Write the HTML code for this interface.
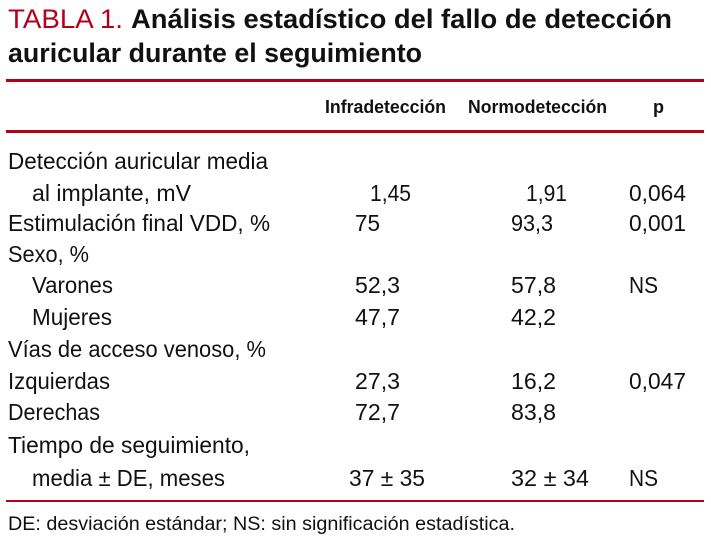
<!DOCTYPE html>
<html><head><meta charset="utf-8"><style>
html,body{margin:0;padding:0;background:#fff;width:711px;height:542px;overflow:hidden}
svg{display:block}
text{font-family:"Liberation Sans",sans-serif;fill:#111}
.b{font-size:23px}
.h{font-size:18px;font-weight:bold}
</style></head><body>
<svg width="711" height="542">
<text x="8" y="28" font-size="27" textLength="115" lengthAdjust="spacingAndGlyphs" style="fill:#b3001b">TABLA 1.</text>
<text x="131" y="28" font-size="27" font-weight="bold" textLength="541" lengthAdjust="spacingAndGlyphs">Análisis estadístico del fallo de detección</text>
<text x="8" y="62" font-size="27" font-weight="bold" textLength="414" lengthAdjust="spacingAndGlyphs">auricular durante el seguimiento</text>
<rect x="6" y="79" width="698" height="3" fill="#b3001b"/>
<text class="h" x="325" y="113" textLength="121" lengthAdjust="spacingAndGlyphs">Infradetección</text>
<text class="h" x="468" y="113" textLength="139" lengthAdjust="spacingAndGlyphs">Normodetección</text>
<text class="h" x="653" y="113">p</text>
<rect x="6" y="130" width="698" height="3" fill="#b3001b"/>
<g>
<text class="b" x="8" y="169" textLength="260" lengthAdjust="spacingAndGlyphs">Detección auricular media</text>
<text class="b" x="32" y="201" textLength="159" lengthAdjust="spacingAndGlyphs">al implante, mV</text>
<text class="b" x="370" y="201" textLength="41" lengthAdjust="spacingAndGlyphs">1,45</text>
<text class="b" x="526" y="201" textLength="41" lengthAdjust="spacingAndGlyphs">1,91</text>
<text class="b" x="629" y="201" textLength="57" lengthAdjust="spacingAndGlyphs">0,064</text>
<text class="b" x="8" y="231" textLength="262" lengthAdjust="spacingAndGlyphs">Estimulación final VDD, %</text>
<text class="b" x="355" y="231" textLength="25" lengthAdjust="spacingAndGlyphs">75</text>
<text class="b" x="511" y="231" textLength="42" lengthAdjust="spacingAndGlyphs">93,3</text>
<text class="b" x="629" y="231" textLength="57" lengthAdjust="spacingAndGlyphs">0,001</text>
<text class="b" x="8" y="262" textLength="81" lengthAdjust="spacingAndGlyphs">Sexo, %</text>
<text class="b" x="32" y="293" textLength="81" lengthAdjust="spacingAndGlyphs">Varones</text>
<text class="b" x="355" y="293" textLength="45" lengthAdjust="spacingAndGlyphs">52,3</text>
<text class="b" x="511" y="293" textLength="45" lengthAdjust="spacingAndGlyphs">57,8</text>
<text class="b" x="629" y="293" textLength="29" lengthAdjust="spacingAndGlyphs">NS</text>
<text class="b" x="32" y="325" textLength="80" lengthAdjust="spacingAndGlyphs">Mujeres</text>
<text class="b" x="355" y="325" textLength="45" lengthAdjust="spacingAndGlyphs">47,7</text>
<text class="b" x="511" y="325" textLength="45" lengthAdjust="spacingAndGlyphs">42,2</text>
<text class="b" x="8" y="357" textLength="258" lengthAdjust="spacingAndGlyphs">Vías de acceso venoso, %</text>
<text class="b" x="8" y="389" textLength="102" lengthAdjust="spacingAndGlyphs">Izquierdas</text>
<text class="b" x="355" y="389" textLength="45" lengthAdjust="spacingAndGlyphs">27,3</text>
<text class="b" x="511" y="389" textLength="45" lengthAdjust="spacingAndGlyphs">16,2</text>
<text class="b" x="629" y="389" textLength="57" lengthAdjust="spacingAndGlyphs">0,047</text>
<text class="b" x="8" y="420" textLength="92" lengthAdjust="spacingAndGlyphs">Derechas</text>
<text class="b" x="355" y="420" textLength="45" lengthAdjust="spacingAndGlyphs">72,7</text>
<text class="b" x="511" y="420" textLength="45" lengthAdjust="spacingAndGlyphs">83,8</text>
<text class="b" x="8" y="453" textLength="242" lengthAdjust="spacingAndGlyphs">Tiempo de seguimiento,</text>
<text class="b" x="32" y="486" textLength="193" lengthAdjust="spacingAndGlyphs">media ± DE, meses</text>
<text class="b" x="349" y="486" textLength="76" lengthAdjust="spacingAndGlyphs">37 ± 35</text>
<text class="b" x="511" y="486" textLength="78" lengthAdjust="spacingAndGlyphs">32 ± 34</text>
<text class="b" x="629" y="486" textLength="29" lengthAdjust="spacingAndGlyphs">NS</text>
</g>
<rect x="6" y="500" width="698" height="2" fill="#b3001b"/>
<text x="8" y="530" font-size="19" textLength="507" lengthAdjust="spacingAndGlyphs">DE: desviación estándar; NS: sin significación estadística.</text>
</svg>
</body></html>
